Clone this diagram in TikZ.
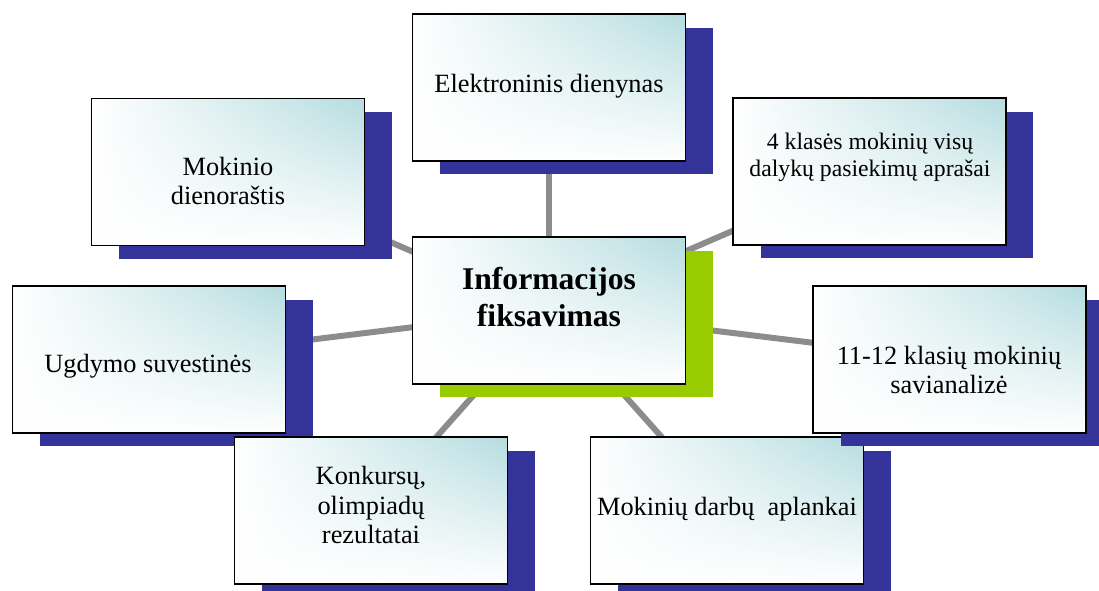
\documentclass[tikz,border=0pt]{standalone}
\usepackage{fontspec}
\setmainfont{Liberation Serif}
\usetikzlibrary{shadows,fadings,backgrounds}
\definecolor{boxteal}{HTML}{B6DDE0}
\definecolor{shadenavy}{HTML}{333399}
\definecolor{shadegreen}{HTML}{99CC00}
\definecolor{linkgray}{HTML}{8C8C8C}
\tikzfading[name=fadebottom, top color=transparent!100, middle color=transparent!70, bottom color=transparent!0]
\begin{document}
\begin{tikzpicture}[x=0.02cm, y=-0.02cm,
    plainbox/.style={draw=black, line width=1pt, minimum width=5.46cm, minimum height=2.94cm, inner sep=0pt,
      left color=white, middle color=white!45!boxteal, right color=boxteal,
      path picture={\fill[white, path fading=fadebottom] (path picture bounding box.north west) rectangle (path picture bounding box.south east);}},
    box/.style={plainbox, drop shadow={shadow xshift=0.55cm, shadow yshift=-0.27cm, fill=shadenavy, opacity=1}},
    hub/.style={plainbox, drop shadow={shadow xshift=0.55cm, shadow yshift=-0.27cm, fill=shadegreen, opacity=1}},
    txt/.style={align=center, inner sep=0pt, font=\fontsize{15}{17}\selectfont},
    smalltxt/.style={txt, font=\fontsize{13.5}{15.5}\selectfont},
    hubtxt/.style={align=center, inner sep=0pt, font=\bfseries\fontsize{18}{21}\selectfont},
    link/.style={draw=linkgray, line width=3.4pt}]
  \useasboundingbox (0,0) rectangle (1099,591);
  % boxes, back to front
  \node[box] (elek) at (549,87.5) {};
  \node[txt] (elek-t) at (549,86) {Elektroninis dienynas};
  \node[box] (mok) at (228,172) {};
  \node[txt] (mok-t) at (228,181) {Mokinio\\dienoraštis};
  \node[box] (klas4) at (869.5,171.5) {};
  \node[smalltxt] (klas4-t) at (870,157) {4 klasės mokinių visų\\dalykų pasiekimų aprašai};
  \node[hub] (info) at (549,310.5) {};
  \node[hubtxt] (info-t) at (549,297) {Informacijos\\fiksavimas};
  \node[box] (ugd) at (149,359.5) {};
  \node[txt] (ugd-t) at (148,366) {Ugdymo suvestinės};
  \node[box] (konk) at (371,510.5) {};
  \node[txt] (konk-t) at (371,505) {Konkursų,\\olimpiadų\\rezultatai};
  \node[box] (darb) at (727,510.5) {};
  \node[txt] (darb-t) at (727,509) {Mokinių darbų\ \ aplankai};
  \node[box] (kl1112) at (949.5,359.5) {};
  \node[txt] (kl1112-t) at (949,370) {11-12 klasių mokinių\\savianalizė};
  % connectors behind everything
  \begin{scope}[on background layer]
    \foreach \n in {elek,mok,klas4,ugd,kl1112,konk,darb}
      \draw[link] (info.center) -- (\n.center);
  \end{scope}
\end{tikzpicture}
\end{document}
